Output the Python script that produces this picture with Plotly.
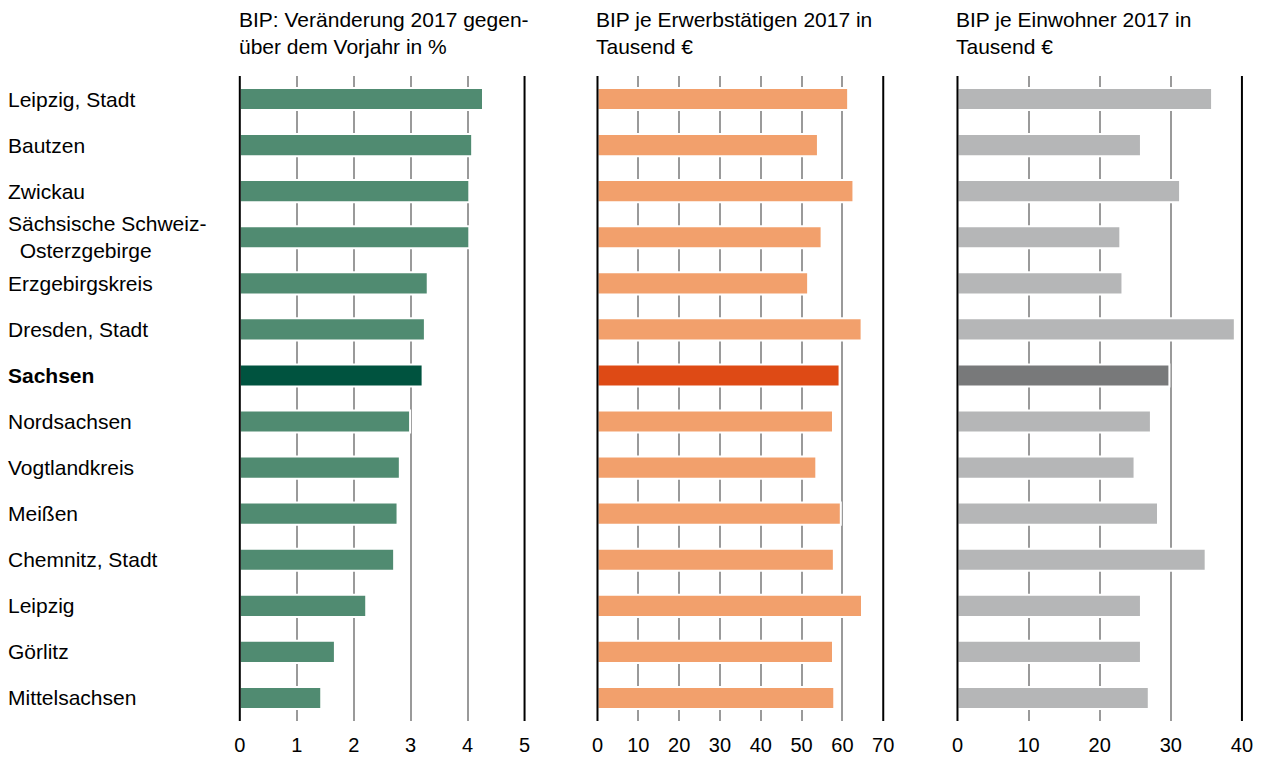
import plotly.graph_objects as go

regions = ["Leipzig, Stadt", "Bautzen", "Zwickau", "Sächsische Schweiz-Osterzgebirge",
           "Erzgebirgskreis", "Dresden, Stadt", "Sachsen", "Nordsachsen", "Vogtlandkreis",
           "Meißen", "Chemnitz, Stadt", "Leipzig", "Görlitz", "Mittelsachsen"]
labels = ["Leipzig, Stadt", "Bautzen", "Zwickau", "Sächsische Schweiz-<br>\u00a0\u00a0Osterzgebirge",
          "Erzgebirgskreis", "Dresden, Stadt", "<b>Sachsen</b>", "Nordsachsen", "Vogtlandkreis",
          "Meißen", "Chemnitz, Stadt", "Leipzig", "Görlitz", "Mittelsachsen"]
bip_change = [4.27, 4.08, 4.03, 4.03, 3.30, 3.25, 3.21, 2.99, 2.81, 2.77, 2.71, 2.22, 1.67, 1.43]
bip_worker = [61.4, 54.0, 62.7, 54.9, 51.6, 64.7, 59.3, 57.7, 53.6, 59.6, 57.9, 64.8, 57.7, 58.0]
bip_resident = [35.8, 25.8, 31.3, 22.9, 23.2, 39.0, 29.8, 27.2, 24.9, 28.2, 34.9, 25.8, 25.8, 26.9]
titles = ["BIP: Veränderung 2017 gegen-<br>über dem Vorjahr in %",
          "BIP je Erwerbstätigen 2017 in<br>Tausend €",
          "BIP je Einwohner 2017 in<br>Tausend €"]
ranges = [[0, 5], [0, 70], [0, 40]]
dticks = [1, 10, 10]
colors = [("#508b71", "#00533f"), ("#f2a06c", "#de4a15"), ("#b5b6b7", "#78797a")]

W, H = 1264, 758
# observed horizontal mapping of figure pixels onto the photographed page
SX, OX = 0.9874, 5.0
def fx(px):
    return (px - OX) / SX / W
def fy(py):
    return 1 - py / H

domains = [[fx(239), fx(524)], [fx(597), fx(883)], [fx(957.3), fx(1242)]]
ydom = [fy(721), fy(76)]
FONT = "Liberation Sans, Arial, sans-serif"
FS = 21
TFS = 20

fig = go.Figure()
series = [bip_change, bip_worker, bip_resident]
for i, vals in enumerate(series):
    xa = "x" if i == 0 else f"x{i+1}"
    cols = [colors[i][1] if r == "Sachsen" else colors[i][0] for r in regions]
    fig.add_trace(go.Bar(
        x=vals, y=regions, orientation="h", xaxis=xa, yaxis="y",
        marker=dict(color=cols, line=dict(color="white", width=2)),
        width=0.48, showlegend=False, hoverinfo="x+y"))

layout = dict(
    width=W, height=H, autosize=False,
    margin=dict(l=0, r=0, t=0, b=0),
    paper_bgcolor="white", plot_bgcolor="white",
    font=dict(family=FONT, size=FS, color="black"),
    yaxis=dict(domain=ydom, type="category", categoryarray=regions,
               autorange="reversed", showticklabels=False, showgrid=False,
               zeroline=False, showline=False, anchor="x"),
)
shapes = []
annotations = []
for i in range(3):
    key = "xaxis" if i == 0 else f"xaxis{i+1}"
    ref = "x" if i == 0 else f"x{i+1}"
    layout[key] = dict(
        domain=domains[i], range=ranges[i], anchor="y",
        tickmode="linear", tick0=0, dtick=dticks[i],
        showgrid=True, gridcolor="#9a9a9a", gridwidth=1.6,
        zeroline=False, showline=False, ticks="",
        tickfont=dict(family=FONT, size=TFS, color="black"),
        ticklabelstandoff=10, fixedrange=True)
    for xv in (0, 1):
        shapes.append(dict(type="line", xref=f"{ref} domain", yref="y domain",
                           x0=xv, x1=xv, y0=0, y1=1,
                           line=dict(color="black", width=2), layer="above"))
    annotations.append(dict(text=titles[i], xref="paper", yref="paper",
                            x=domains[i][0], y=fy(6), xanchor="left", yanchor="top",
                            xshift=-3, align="left", showarrow=False,
                            font=dict(family=FONT, size=FS, color="black")))

for r, lab in zip(regions, labels):
    annotations.append(dict(text=lab, xref="paper", yref="y", x=0, y=r,
                            xanchor="left", yanchor="middle", align="left",
                            showarrow=False,
                            font=dict(family=FONT, size=FS, color="black")))

layout["shapes"] = shapes
layout["annotations"] = annotations
fig.update_layout(**layout)

post = ("document.documentElement.style.margin='0';document.documentElement.style.overflow='hidden';"
        "document.body.style.margin='0';document.body.style.overflow='hidden';"
        "Plotly.relayout('{plot_id}', {width: 1264, height: 758});")
fig.write_html("out.html", post_script=post, config={"displayModeBar": False})
